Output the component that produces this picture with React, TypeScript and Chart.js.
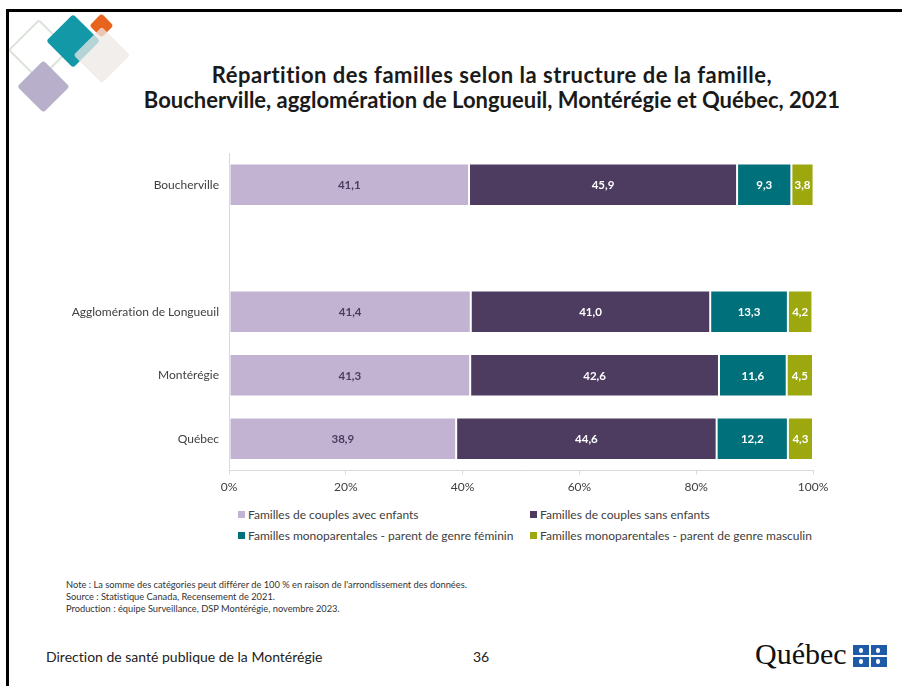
import React, { useEffect, useRef } from "react";
import { Chart, registerables } from "chart.js";

Chart.register(...registerables);

const categories = ["Boucherville", "", "Agglomération de Longueuil", "Montérégie", "Québec"];
const coupleAvecEnfants = [41.1, null, 41.4, 41.3, 38.9];
const coupleSansEnfants = [45.9, null, 41.0, 42.6, 44.6];
const monoFeminin = [9.3, null, 13.3, 11.6, 12.2];
const monoMasculin = [3.8, null, 4.2, 4.5, 4.3];
const seriesNames = [
  "Familles de couples avec enfants",
  "Familles de couples sans enfants",
  "Familles monoparentales - parent de genre féminin",
  "Familles monoparentales - parent de genre masculin",
];
const seriesColors = ["#C2B3D3", "#4D3B60", "#00707B", "#9CA80E"];
const labelColors = ["#4D3B60", "#FFFFFF", "#FFFFFF", "#FFFFFF"];
const xTicks = [0, 20, 40, 60, 80, 100];

const FONT = "Lato, 'Open Sans', sans-serif";

const valueLabels = {
  id: "valueLabels",
  afterDatasetsDraw(chart: any) {
    const ctx = chart.ctx;
    ctx.save();
    ctx.font = `bold 11.5px ${FONT}`;
    ctx.textAlign = "center";
    ctx.textBaseline = "middle";
    chart.data.datasets.forEach((ds: any, di: number) => {
      const meta = chart.getDatasetMeta(di);
      meta.data.forEach((el: any, i: number) => {
        const v = ds.data[i];
        if (v === null || v === undefined) return;
        const p = el.getProps(["x", "y", "base"], true);
        ctx.fillStyle = labelColors[di];
        ctx.fillText(v.toFixed(1).replace(".", ","), (p.x + p.base) / 2, p.y + 1);
      });
    });
    ctx.restore();
  },
};

function Diamond(props: { cx: number; cy: number; half: number; style: React.CSSProperties }) {
  const side = props.half * Math.SQRT2;
  return (
    <div
      style={{
        position: "absolute",
        left: props.cx - side / 2,
        top: props.cy - side / 2,
        width: side,
        height: side,
        transform: "rotate(45deg)",
        borderRadius: 3,
        boxSizing: "border-box",
        ...props.style,
      }}
    />
  );
}

export default function App() {
  const canvasRef = useRef<HTMLCanvasElement | null>(null);

  useEffect(() => {
    const c = canvasRef.current;
    if (!c) return;
    const datasets = [coupleAvecEnfants, coupleSansEnfants, monoFeminin, monoMasculin].map((d, i) => ({
      label: seriesNames[i],
      data: d,
      backgroundColor: seriesColors[i],
      borderColor: "rgba(255,255,255,0.25)",
      borderWidth: 1,
      borderSkipped: false,
      barPercentage: 0.67,
      categoryPercentage: 1,
    }));
    const chart = new Chart(c, {
      type: "bar",
      data: { labels: categories, datasets },
      plugins: [valueLabels],
      options: {
        indexAxis: "y",
        responsive: false,
        animation: false,
        events: [],
        layout: { padding: { top: 13, right: 67, left: 0, bottom: 0 } },
        plugins: { legend: { display: false }, tooltip: { enabled: false } },
        scales: {
          x: {
            stacked: true,
            min: 0,
            max: 100,
            afterBuildTicks: (s: any) => {
              s.ticks = xTicks.map((v) => ({ value: v }));
            },
            afterFit: (s: any) => {
              s.height = 29.5;
            },
            grid: { drawOnChartArea: false, drawTicks: true, tickLength: 4, color: "#D9D9D9" },
            border: { display: true, color: "#D9D9D9", width: 1 },
            ticks: {
              padding: 5,
              color: "#404040",
              font: { family: FONT, size: 12 },
              callback: (v: any) => v + "%",
            },
          },
          y: {
            stacked: true,
            afterFit: (s: any) => {
              s.width = 209;
              s.paddingTop = 0;
              s.paddingBottom = 0;
            },
            grid: { display: false, drawTicks: false },
            border: { display: true, color: "#D9D9D9", width: 1 },
            ticks: {
              padding: 10,
              color: "#404040",
              font: { family: FONT, size: 12 },
            },
          },
        },
      },
    } as any);
    return () => chart.destroy();
  }, []);

  const legendPos = [
    { x: 238, y: 514 },
    { x: 530, y: 514 },
    { x: 238, y: 535 },
    { x: 530, y: 535 },
  ];

  return (
    <div
      style={{
        position: "absolute",
        left: 0,
        top: 0,
        width: 902,
        height: 686,
        overflow: "hidden",
        background: "#FFFFFF",
        fontFamily: FONT,
        fontVariantLigatures: "none",
      }}
    >
      <div
        style={{
          position: "absolute",
          left: 6,
          top: 9,
          width: 1000,
          height: 800,
          borderLeft: "3px solid #000",
          borderTop: "3px solid #000",
        }}
      />
      {/* decoration */}
      <Diamond cx={39} cy={50} half={31} style={{ border: "2px solid #DCE3DA" }} />
      <Diamond cx={43} cy={86} half={26} style={{ background: "#B8AFCB" }} />
      <Diamond cx={73} cy={41} half={27} style={{ background: "#1298A7" }} />
      <Diamond cx={101} cy={25} half={12} style={{ background: "#E8641E" }} />
      <Diamond cx={102} cy={55} half={28} style={{ background: "rgba(236,232,230,0.75)" }} />

      <div
        style={{
          position: "absolute",
          left: 92,
          top: 62,
          width: 800,
          textAlign: "center",
          fontWeight: 700,
          fontSize: 22,
          lineHeight: "25px",
          color: "#1A1A1A",
        }}
      >
        <span style={{ letterSpacing: "0.5px" }}>Répartition des familles selon la structure de la famille,</span>
        <br />
        Boucherville, agglomération de Longueuil, Montérégie et Québec, 2021
      </div>

      <canvas
        ref={canvasRef}
        width={860}
        height={360}
        style={{ position: "absolute", left: 20, top: 140, width: 860, height: 360 }}
      />

      {seriesNames.map((n, i) => (
        <div
          key={n}
          style={{
            position: "absolute",
            left: legendPos[i].x,
            top: legendPos[i].y - 8,
            height: 16,
            display: "flex",
            alignItems: "center",
            fontSize: 12,
            color: "#404040",
            whiteSpace: "nowrap",
          }}
        >
          <span style={{ display: "inline-block", width: 7, height: 7, background: seriesColors[i], marginRight: 3 }} />
          {n}
        </div>
      ))}

      <div
        style={{
          position: "absolute",
          left: 66,
          top: 579,
          fontSize: 9.3,
          lineHeight: "12px",
          color: "#333",
          whiteSpace: "nowrap",
        }}
      >
        Note : La somme des catégories peut différer de 100 % en raison de l'arrondissement des données.
        <br />
        Source : Statistique Canada, Recensement de 2021.
        <br />
        Production : équipe Surveillance, DSP Montérégie, novembre 2023.
      </div>

      <div style={{ position: "absolute", left: 46, top: 648, fontSize: 14, lineHeight: "18px", color: "#222" }}>
        Direction de santé publique de la Montérégie
      </div>
      <div style={{ position: "absolute", left: 473, top: 648, fontSize: 14, lineHeight: "18px", color: "#222" }}>
        36
      </div>

      <div
        style={{
          position: "absolute",
          left: 755,
          top: 638,
          fontFamily: "'Liberation Serif', serif",
          fontSize: 30,
          lineHeight: "32px",
          color: "#111",
        }}
      >
        Québec
      </div>
      <div
        style={{
          position: "absolute",
          left: 853,
          top: 645,
          width: 34,
          height: 22,
          background: "#1E5AA8",
        }}
      >
        <div style={{ position: "absolute", left: 16, top: 0, width: 2, height: 22, background: "#fff" }} />
        <div style={{ position: "absolute", left: 0, top: 10, width: 34, height: 2, background: "#fff" }} />
        {[
          [6, 3],
          [23, 3],
          [6, 14],
          [23, 14],
        ].map(([x, y], k) => (
          <div
            key={k}
            style={{ position: "absolute", left: x, top: y, width: 4, height: 5, background: "#fff", borderRadius: 2 }}
          />
        ))}
      </div>
    </div>
  );
}
